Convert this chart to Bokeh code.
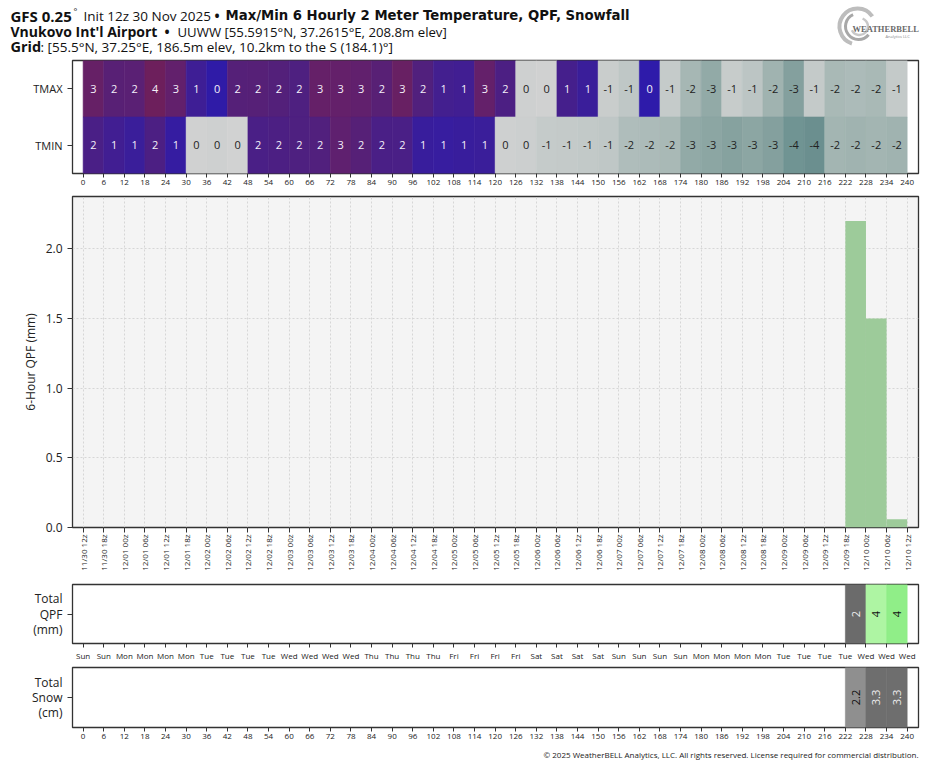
from bokeh.plotting import figure
from bokeh.models import Range1d, FixedTicker, ColumnDataSource, Label
from bokeh.layouts import column
from bokeh.embed import file_html
from bokeh.resources import INLINE
from bokeh.core.properties import value
import math

# ---------------- data ----------------
hours = list(range(0, 241, 6))          # forecast hour ticks
period_start = hours[:-1]               # 6-hour periods

# estimated 2 m temperatures (deg C); labels are rounded values
tmax = [3.2, 2.3, 2.4, 3.8, 2.9, 1.1, 0.3, 2.1, 2.2, 2.0, 1.8, 3.1, 3.0, 2.8,
        2.3, 3.4, 1.9, 1.3, 1.2, 3.0, 1.7, -0.3, -0.2, 1.4, 0.9, -0.6, -1.1,
        0.2, -0.8, -1.9, -2.6, -0.7, -1.2, -2.1, -3.1, -0.9, -1.8, -1.7, -1.8, -0.9]
tmin = [1.6, 1.2, 0.9, 1.7, 0.6, -0.2, -0.3, -0.1, 1.6, 1.7, 1.8, 1.9, 2.7, 2.2,
        1.6, 1.6, 0.8, 0.7, 0.8, 0.9, -0.3, -0.4, -0.8, -0.9, -1.0, -1.1, -1.6,
        -1.7, -1.8, -2.6, -2.8, -3.0, -2.8, -3.1, -3.9, -4.2, -2.0, -2.1, -2.0, -2.1]

# 6-hour QPF (mm)
qpf_6h = [0.0] * 37 + [2.2, 1.5, 0.06]
# running totals shown in the lower panels
total_qpf = [None] * 37 + [2.2, 3.7, 3.76]      # mm
total_snow = [None] * 37 + [2.2, 3.3, 3.3]      # cm

date_labels = ["11/30 12z", "11/30 18z",
               "12/01 00z", "12/01 06z", "12/01 12z", "12/01 18z",
               "12/02 00z", "12/02 06z", "12/02 12z", "12/02 18z",
               "12/03 00z", "12/03 06z", "12/03 12z", "12/03 18z",
               "12/04 00z", "12/04 06z", "12/04 12z", "12/04 18z",
               "12/05 00z", "12/05 06z", "12/05 12z", "12/05 18z",
               "12/06 00z", "12/06 06z", "12/06 12z", "12/06 18z",
               "12/07 00z", "12/07 06z", "12/07 12z", "12/07 18z",
               "12/08 00z", "12/08 06z", "12/08 12z", "12/08 18z",
               "12/09 00z", "12/09 06z", "12/09 12z", "12/09 18z",
               "12/10 00z", "12/10 06z", "12/10 12z"]
day_labels = ["Sun", "Sun"] + ["Mon"] * 4 + ["Tue"] * 4 + ["Wed"] * 4 + ["Thu"] * 4 + \
             ["Fri"] * 4 + ["Sat"] * 4 + ["Sun"] * 4 + ["Mon"] * 4 + ["Tue"] * 4 + ["Wed"] * 3
qpf_yticks = [0.0, 0.5, 1.0, 1.5, 2.0]

# ---------------- styles ----------------
FONT = "Open Sans"
W = 927
XR = (-3.1, 243.3)

NEG = [(-5, "#5f8584"), (-4, "#6e9292"), (-3, "#86a29f"), (-2, "#a3b5b2"),
       (-1, "#c2c9c8"), (0, "#d3d3d3")]
POS = [(0, "#2a1aae"), (1, "#3c1e98"), (2, "#53207a"), (3, "#64206a"), (4, "#6f1f58")]


def _hex(c):
    return [int(c[i:i + 2], 16) for i in (1, 3, 5)]


def interp(anchors, v):
    v = max(anchors[0][0], min(anchors[-1][0], v))
    for (a, ca), (b, cb) in zip(anchors[:-1], anchors[1:]):
        if a <= v <= b:
            t = (v - a) / (b - a)
            c1, c2 = _hex(ca), _hex(cb)
            return "#%02x%02x%02x" % tuple(int(round(x + (y - x) * t)) for x, y in zip(c1, c2))
    return anchors[-1][1]


def temp_color(v):
    return interp(POS, v) if v > 0 else interp(NEG, v)


def step_color(steps, v):
    col = steps[0][1]
    for th, c in steps:
        if v >= th:
            col = c
    return col


QPF_STEPS = [(0, "#6b6b6b"), (2.5, "#aef5a3"), (3.75, "#90ee88")]
SNOW_STEPS = [(0, "#8f8f8f"), (3.0, "#6e6e6e")]


def base_fig(height, top, bottom, yr, bg="white"):
    p = figure(width=W, height=height, x_range=Range1d(*XR), y_range=Range1d(*yr),
               output_backend="svg", toolbar_location=None,
               min_border_left=72, min_border_right=9, min_border_top=top,
               min_border_bottom=bottom, background_fill_color=bg,
               border_fill_color="white", outline_line_color="#333",
               outline_line_width=1.3)
    p.xgrid.visible = False
    p.ygrid.visible = False
    for ax in (p.xaxis[0], p.yaxis[0]):
        ax.axis_line_color = None
        ax.major_tick_line_color = "#333"
        ax.major_tick_in = 0
        ax.major_tick_out = 4
        ax.minor_tick_line_color = None
        ax.major_label_text_font = FONT
        ax.major_label_text_color = "#222"
        ax.major_label_text_font_size = "8px"
        ax.major_label_standoff = 2
    p.xaxis.ticker = FixedTicker(ticks=hours, minor_ticks=[])
    p.yaxis[0].major_tick_out = 5
    p.yaxis[0].major_label_standoff = 5
    p.yaxis[0].major_label_text_font_size = "12px"
    return p


def bare_fig(height):
    # frame spans the whole canvas: data x == page x, data y == pixels from bottom
    p = figure(width=W, height=height, x_range=Range1d(0, W), y_range=Range1d(0, height),
               output_backend="svg", toolbar_location=None, min_border=0,
               min_border_left=0, min_border_right=0, min_border_top=0,
               min_border_bottom=0, outline_line_color=None, frame_align=False)
    p.axis.visible = False
    p.grid.visible = False
    return p


# ---------------- title block ----------------
TH = 58
tp = bare_fig(TH)


def ttext(x, y, s, bold=False, size="13.5px", font=FONT, color="#111"):
    tp.add_layout(Label(x=x, y=y, text=s, text_font=font, text_font_size=size,
                        text_font_style="bold" if bold else "normal",
                        text_color=color, text_align="left", text_baseline="middle"))


ttext(10, 43, "GFS 0.25", bold=True, size="15px")
ttext(73, 47, "°", size="9px")
ttext(83, 43, "Init 12z 30 Nov 2025")
ttext(214, 43, "•", bold=True)
ttext(225, 43, "Max/Min 6 Hourly 2 Meter Temperature, QPF, Snowfall", bold=True,
      font="DejaVu Sans", size="13.25px")
ttext(10, 27, "Vnukovo Int'l Airport", bold=True, size="14px")
ttext(164, 27, "•", bold=True)
ttext(177, 27, "UUWW [55.5915°N, 37.2615°E, 208.8m elev]", size="13.2px")
ttext(10, 12, "Grid", bold=True, size="14.5px")
ttext(40, 12, ": [55.5°N, 37.25°E, 186.5m elev, 10.2km to the S (184.1)°]")

# logo (WeatherBELL swirl)
tp.arc(x=[857, 858, 859], y=[32, 32, 32], radius=[18, 13, 8.5],
       start_angle=[0.6, 2.0, 3.6], end_angle=[4.4, 5.6, 1.2],
       line_color=["#bdbdbd", "#a8a8a8", "#c8c8c8"], line_width=[4, 3, 2.5])
tp.text(x=[852], y=[30], text=["WEATHERBELL"], text_font=value("Liberation Serif"),
        text_font_size="8.5px", text_font_style="bold", text_color="#6a6a6a",
        text_align="left", text_baseline="middle")
tp.text(x=[885], y=[22], text=["Analytics LLC"], text_font=value(FONT),
        text_font_size="4px", text_color="#888", text_align="left",
        text_baseline="middle")

# ---------------- temperature heat map ----------------
hp = base_fig(132, 2, 17, (0, 2))
rows = {"x0": [], "x1": [], "y0": [], "y1": [], "xc": [], "yc": [],
        "color": [], "label": [], "tcolor": []}
for vals, yb in ((tmax, 1), (tmin, 0)):
    for h, v in zip(period_start, vals):
        rows["x0"].append(h)
        rows["x1"].append(h + 6)
        rows["y0"].append(yb)
        rows["y1"].append(yb + 1)
        rows["xc"].append(h + 3)
        rows["yc"].append(yb + 0.5)
        rows["color"].append(temp_color(v))
        rows["label"].append(str(int(round(v))))
        rows["tcolor"].append("#f4f0fa" if v > 0 else "#222222")
hsrc = ColumnDataSource(rows)
hp.quad(left="x0", right="x1", bottom="y0", top="y1", fill_color="color",
        line_color="color", line_width=0.6, source=hsrc)
hp.text(x="xc", y="yc", text="label", text_color="tcolor", text_font=value(FONT),
        text_font_size="11px", text_align="center", text_baseline="middle", source=hsrc)
hp.yaxis.ticker = FixedTicker(ticks=[0.5, 1.5], minor_ticks=[])
hp.yaxis.major_label_overrides = {0.5: "TMIN", 1.5: "TMAX"}
hp.yaxis.major_label_text_font_size = "11px"
hp.xaxis.major_label_overrides = {h: str(h) for h in hours}

# ---------------- 6-hour QPF bars ----------------
mp = base_fig(390, 6, 53, (0, 2.375), bg="#f4f4f4")
msrc = ColumnDataSource({"x0": period_start, "x1": [h + 6 for h in period_start],
                         "top": qpf_6h})
mp.quad(left="x0", right="x1", bottom=0, top="top", fill_color="#9dcb9a",
        line_color=None, source=msrc)
mp.xgrid.visible = True
mp.ygrid.visible = True
mp.xgrid.ticker = FixedTicker(ticks=hours, minor_ticks=[])
mp.ygrid.ticker = FixedTicker(ticks=qpf_yticks, minor_ticks=[])
for g in (mp.xgrid[0], mp.ygrid[0]):
    g.grid_line_color = "#d6d6d6"
    g.grid_line_dash = "2 2"
    g.grid_line_width = 1
mp.yaxis.ticker = FixedTicker(ticks=qpf_yticks, minor_ticks=[])
mp.yaxis.major_label_overrides = {t: "%.1f" % t for t in qpf_yticks}
mp.yaxis.axis_label = "6-Hour QPF (mm)"
mp.yaxis.axis_label_text_font = FONT
mp.yaxis.axis_label_text_font_style = "normal"
mp.yaxis.axis_label_text_font_size = "12px"
mp.yaxis.axis_label_text_color = "#222"
mp.yaxis.axis_label_standoff = 4
mp.xaxis.major_label_overrides = dict(zip(hours, date_labels))
mp.xaxis.major_label_orientation = math.pi / 2
mp.xaxis.major_tick_out = 5


# ---------------- total QPF / total snow strips ----------------
def strip(height, top, bottom, totals, steps, fmt, ylabel, light_text):
    p = base_fig(height, top, bottom, (0, 1))
    d = {"x0": [], "x1": [], "xc": [], "color": [], "label": [], "tcolor": []}
    for h, v in zip(period_start, totals):
        if v is None:
            continue
        c = step_color(steps, v)
        d["x0"].append(h)
        d["x1"].append(h + 6)
        d["xc"].append(h + 3)
        d["color"].append(c)
        d["label"].append(fmt(v))
        d["tcolor"].append("#eeeeee" if c in light_text else "#111111")
    s = ColumnDataSource(d)
    p.quad(left="x0", right="x1", bottom=0, top=1, fill_color="color",
           line_color="color", line_width=0.6, source=s)
    p.text(x="xc", y=0.5, text="label", angle=math.pi / 2, text_color="tcolor",
           text_font=value(FONT), text_font_size="11px", text_align="center",
           text_baseline="middle", source=s)
    p.yaxis.ticker = FixedTicker(ticks=[0.5], minor_ticks=[])
    p.yaxis.major_label_overrides = {0.5: ylabel}
    p.yaxis.major_label_text_line_height = 0.9
    return p


qp = strip(84, 4, 21, total_qpf, QPF_STEPS, lambda v: "%d" % round(v),
           "Total\nQPF\n(mm)", {"#6b6b6b"})
qp.xaxis.major_label_overrides = dict(zip(hours, day_labels))

sp = strip(81, 3, 18, total_snow, SNOW_STEPS, lambda v: "%.1f" % v,
           "Total\nSnow\n(cm)", {"#6e6e6e"})
sp.xaxis.major_label_overrides = {h: str(h) for h in hours}

# ---------------- footer ----------------
fp = bare_fig(17)
fp.add_layout(Label(x=918, y=8, text="© 2025 WeatherBELL Analytics, LLC. All rights reserved. "
                                      "License required for commercial distribution.",
                    text_font=FONT, text_font_size="8px", text_color="#222",
                    text_align="right", text_baseline="middle"))

layout = column(tp, hp, mp, qp, sp, fp, spacing=0)
open("out.html", "w").write(file_html(layout, INLINE))
